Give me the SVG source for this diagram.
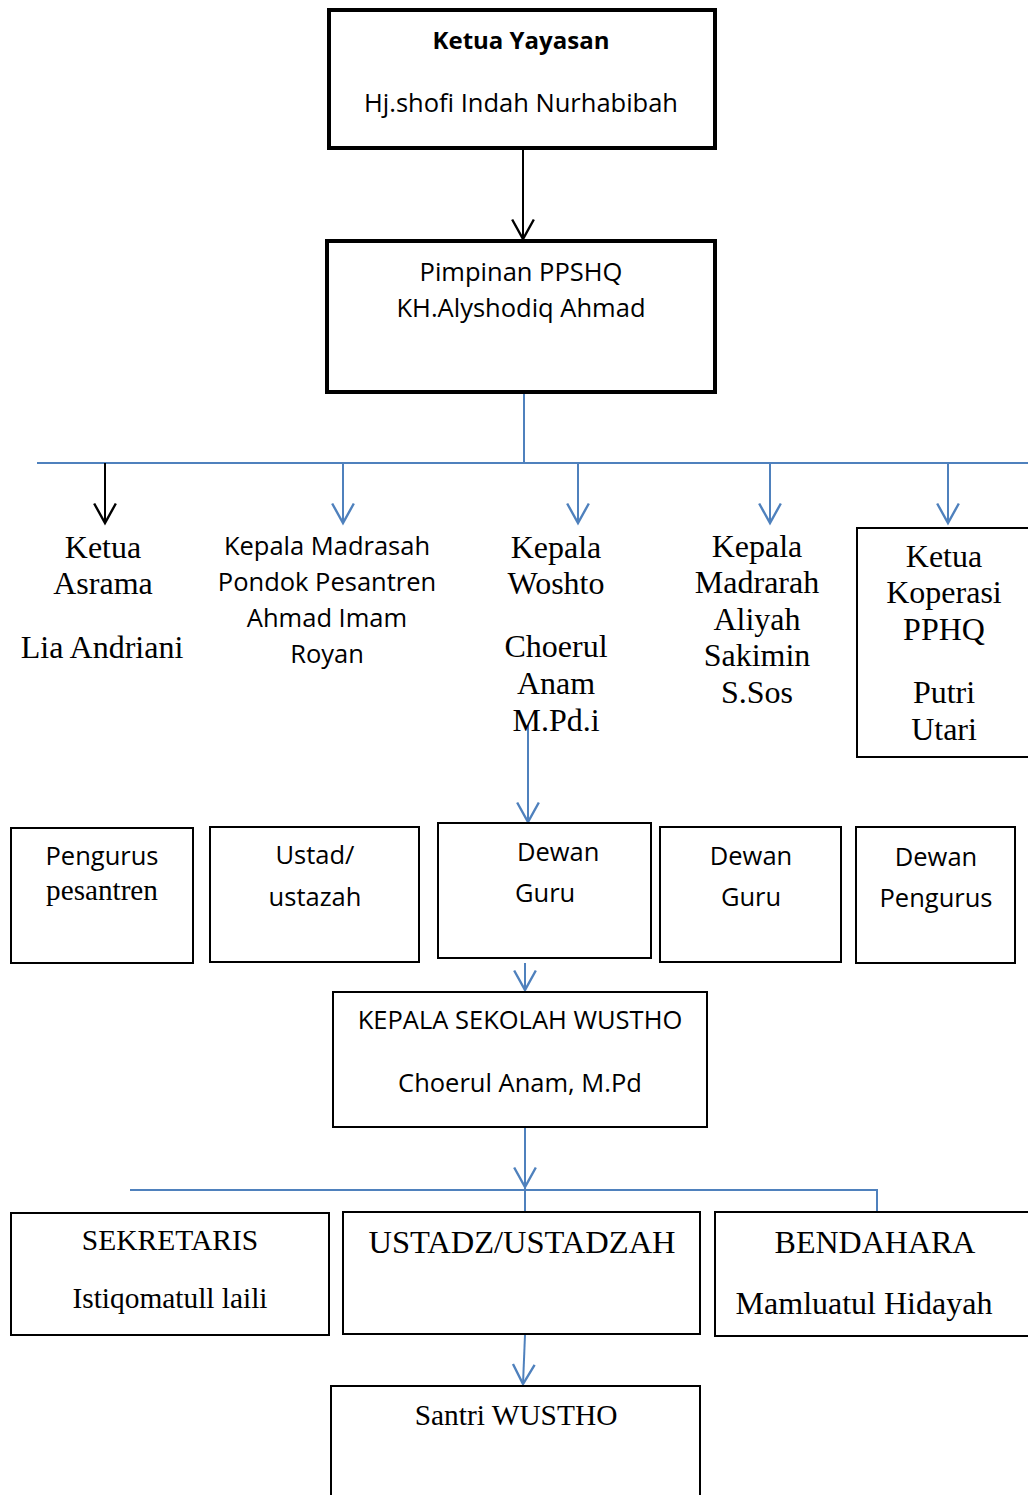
<svg xmlns="http://www.w3.org/2000/svg" width="1028" height="1495" viewBox="0 0 1028 1495">
<style>
.box{fill:#fff;stroke:#000;stroke-width:2}
.thick{fill:#fff;stroke:#000;stroke-width:4}
.sans{font-family:"Open Sans","Liberation Sans",sans-serif;font-size:25.5px;fill:#000}
.serif{font-family:"Liberation Serif","Times New Roman",serif;font-size:32px;fill:#000}
.blue{stroke:#4F81BD;stroke-width:2;fill:none}
.blk{stroke:#000;stroke-width:2;fill:none}
</style>
<defs>
<marker id="ab" markerUnits="userSpaceOnUse" markerWidth="24" markerHeight="26" viewBox="0 0 22 24" refX="19" refY="12" orient="auto">
<path d="M1,2 L19,12 L1,22" fill="none" stroke="#4F81BD" stroke-width="2.2"/>
</marker>
<marker id="ak" markerUnits="userSpaceOnUse" markerWidth="24" markerHeight="26" viewBox="0 0 22 24" refX="19" refY="12" orient="auto">
<path d="M1,2 L19,12 L1,22" fill="none" stroke="#000" stroke-width="2.2"/>
</marker>
</defs>

<g id="connectors">
<line class="blk" x1="523" y1="148" x2="523" y2="239" marker-end="url(#ak)"/>
<line class="blue" x1="524" y1="393" x2="524" y2="463"/>
<line class="blue" x1="37" y1="463" x2="1028" y2="463"/>
<line class="blk" x1="105" y1="463" x2="105" y2="523" marker-end="url(#ak)"/>
<line class="blue" x1="343" y1="463" x2="343" y2="523" marker-end="url(#ab)"/>
<line class="blue" x1="578" y1="463" x2="578" y2="523" marker-end="url(#ab)"/>
<line class="blue" x1="770" y1="463" x2="770" y2="523" marker-end="url(#ab)"/>
<line class="blue" x1="948" y1="463" x2="948" y2="523" marker-end="url(#ab)"/>
<line class="blue" x1="528" y1="725" x2="528" y2="822" marker-end="url(#ab)"/>
<line class="blue" x1="525" y1="963" x2="525" y2="990" marker-end="url(#ab)"/>
<line class="blue" x1="525" y1="1127" x2="525" y2="1187" marker-end="url(#ab)"/>
<polyline class="blue" points="130,1190 877,1190 877,1212"/>
<line class="blue" x1="525" y1="1188" x2="525" y2="1212"/>
<line class="blue" x1="525" y1="1335" x2="523" y2="1384" marker-end="url(#ab)"/>
</g>

<g id="ketua-yayasan">
<rect class="thick" x="329" y="10" width="386" height="138"/>
<text class="sans" x="521" y="49" text-anchor="middle" style="font-weight:bold;font-size:24px">Ketua Yayasan</text>
<text class="sans" x="521" y="112" text-anchor="middle">Hj.shofi Indah Nurhabibah</text>
</g>

<g id="pimpinan">
<rect class="thick" x="327" y="241" width="388" height="151"/>
<text class="sans" x="521" y="281" text-anchor="middle">Pimpinan PPSHQ</text>
<text class="sans" x="521" y="317" text-anchor="middle">KH.Alyshodiq Ahmad</text>
</g>

<g id="ketua-asrama">
<text class="serif" x="103" y="558" text-anchor="middle">Ketua</text>
<text class="serif" x="103" y="594" text-anchor="middle">Asrama</text>
<text class="serif" x="102" y="658" text-anchor="middle">Lia Andriani</text>
</g>

<g id="kepala-madrasah">
<text class="sans" x="327" y="555" text-anchor="middle">Kepala Madrasah</text>
<text class="sans" x="327" y="591" text-anchor="middle">Pondok Pesantren</text>
<text class="sans" x="327" y="627" text-anchor="middle">Ahmad Imam</text>
<text class="sans" x="327" y="663" text-anchor="middle">Royan</text>
</g>

<g id="kepala-woshto">
<text class="serif" x="556" y="558" text-anchor="middle">Kepala</text>
<text class="serif" x="556" y="594" text-anchor="middle">Woshto</text>
<text class="serif" x="556" y="657" text-anchor="middle">Choerul</text>
<text class="serif" x="556" y="694" text-anchor="middle">Anam</text>
<text class="serif" x="556" y="731" text-anchor="middle">M.Pd.i</text>
</g>

<g id="kepala-aliyah">
<text class="serif" x="757" y="557" text-anchor="middle">Kepala</text>
<text class="serif" x="757" y="593" text-anchor="middle">Madrarah</text>
<text class="serif" x="757" y="630" text-anchor="middle">Aliyah</text>
<text class="serif" x="757" y="666" text-anchor="middle">Sakimin</text>
<text class="serif" x="757" y="703" text-anchor="middle">S.Sos</text>
</g>

<g id="ketua-koperasi">
<rect class="box" x="857" y="528" width="175" height="229"/>
<text class="serif" x="944" y="567" text-anchor="middle">Ketua</text>
<text class="serif" x="944" y="603" text-anchor="middle">Koperasi</text>
<text class="serif" x="944" y="640" text-anchor="middle">PPHQ</text>
<text class="serif" x="944" y="703" text-anchor="middle">Putri</text>
<text class="serif" x="944" y="740" text-anchor="middle">Utari</text>
</g>

<g id="pengurus-pesantren">
<rect class="box" x="11" y="828" width="182" height="135"/>
<text class="sans" x="102" y="865" text-anchor="middle">Pengurus</text>
<text class="serif" x="102" y="900" text-anchor="middle" style="font-size:29.2px">pesantren</text>
</g>

<g id="ustad-ustazah">
<rect class="box" x="210" y="827" width="209" height="135"/>
<text class="sans" x="315" y="864" text-anchor="middle">Ustad/</text>
<text class="sans" x="315" y="906" text-anchor="middle">ustazah</text>
</g>

<g id="dewan-guru-1">
<rect class="box" x="438" y="823" width="213" height="135"/>
<text class="sans" x="517" y="861">Dewan</text>
<text class="sans" x="515" y="902">Guru</text>
</g>

<g id="dewan-guru-2">
<rect class="box" x="660" y="827" width="181" height="135"/>
<text class="sans" x="751" y="865" text-anchor="middle">Dewan</text>
<text class="sans" x="751" y="906" text-anchor="middle">Guru</text>
</g>

<g id="dewan-pengurus">
<rect class="box" x="856" y="827" width="159" height="136"/>
<text class="sans" x="936" y="866" text-anchor="middle">Dewan</text>
<text class="sans" x="936" y="907" text-anchor="middle">Pengurus</text>
</g>

<g id="kepala-sekolah">
<rect class="box" x="333" y="992" width="374" height="135"/>
<text class="sans" x="520" y="1029" text-anchor="middle">KEPALA SEKOLAH WUSTHO</text>
<text class="sans" x="520" y="1092" text-anchor="middle">Choerul Anam, M.Pd</text>
</g>

<g id="sekretaris">
<rect class="box" x="11" y="1213" width="318" height="122"/>
<text class="serif" x="170" y="1250" text-anchor="middle" style="font-size:29.5px">SEKRETARIS</text>
<text class="serif" x="170" y="1308" text-anchor="middle" style="font-size:29.4px">Istiqomatull laili</text>
</g>

<g id="ustadz-ustadzah">
<rect class="box" x="343" y="1212" width="357" height="122"/>
<text class="serif" x="522" y="1253" text-anchor="middle" style="font-size:32.5px">USTADZ/USTADZAH</text>
</g>

<g id="bendahara">
<rect class="box" x="715" y="1212" width="316" height="124"/>
<text class="serif" x="875" y="1253" text-anchor="middle">BENDAHARA</text>
<text class="serif" x="864" y="1314" text-anchor="middle">Mamluatul Hidayah</text>
</g>

<g id="santri-wustho">
<rect class="box" x="331" y="1386" width="369" height="120"/>
<text class="serif" x="516" y="1425" text-anchor="middle" style="font-size:29.4px">Santri WUSTHO</text>
</g>
</svg>
